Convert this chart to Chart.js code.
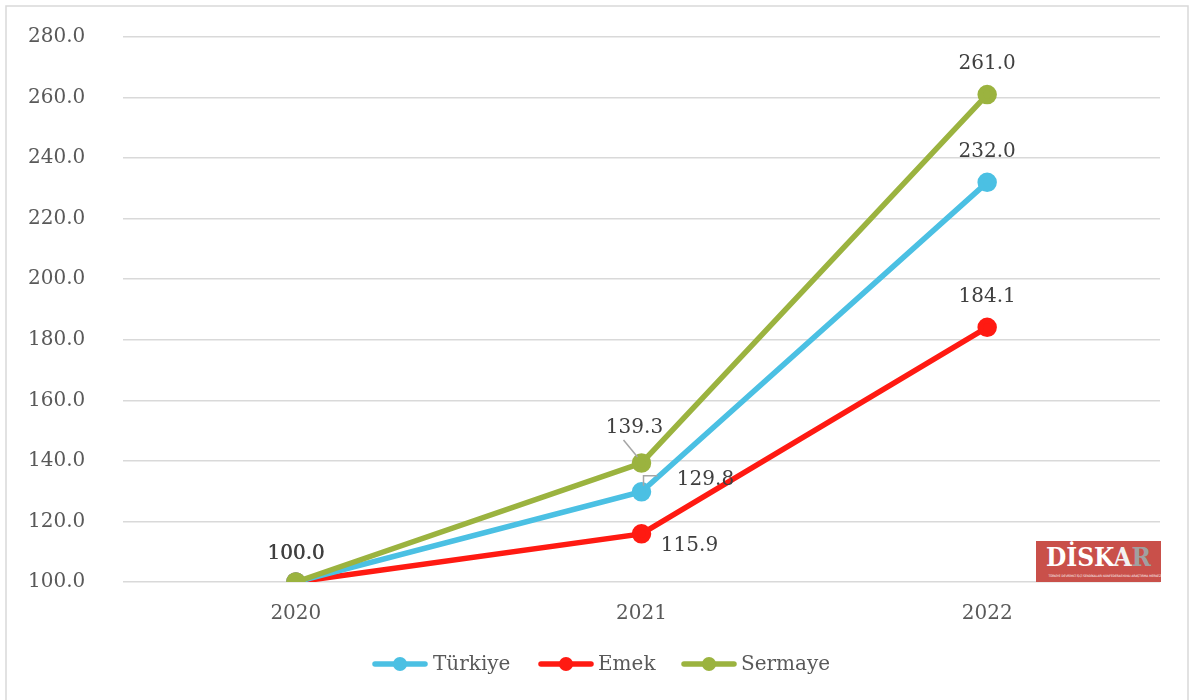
<!DOCTYPE html>
<html>
<head>
<meta charset="utf-8">
<script src="https://cdn.jsdelivr.net/npm/chart.js@4/dist/chart.umd.min.js"></script>
<style>
  html, body { margin: 0; padding: 0; background: #fff; }
  #wrap { position: relative; width: 1189px; height: 700px; }
  #logo {
    position: absolute; left: 1036px; top: 541px; width: 125px; height: 41px;
    background: #c9504a; color: #fff; font-family: "DejaVu Serif Condensed", "DejaVu Serif", serif;
    text-align: center; overflow: hidden;
  }
  #logo .big { font-size: 26px; font-weight: bold; line-height: 31px; padding-top: 1px; }
  #logo .big span { color: #f2f2f2; }
  #logo .big b { color: #a0a0a0; }
  #logo .small { font-size: 4px; line-height: 6px; font-family: "DejaVu Sans Condensed", sans-serif; white-space: nowrap; transform: scale(0.8); }
</style>
</head>
<body>
<div id="wrap">
  <canvas id="chart" width="1189" height="700"></canvas>
  <div id="logo"><div class="big">DİSK<span>A</span><b>R</b></div><div class="small">TÜRKİYE DEVRİMCİ İŞÇİ SENDİKALARI KONFEDERASYONU ARAŞTIRMA MERKEZİ</div></div>
</div>
<script>
const years = ['2020', '2021', '2022'];
const turkiye = [100.0, 129.8, 232.0];
const emek = [100.0, 115.9, 184.1];
const sermaye = [100.0, 139.3, 261.0];
const yTicks = [100, 120, 140, 160, 180, 200, 220, 240, 260, 280];

const FONT = '"DejaVu Serif", serif';

// label offsets per dataset & point (dx, dy from point, leader line flag)
const labelPos = {
  0: [[0, -28], [64, -12, true], [0, -31]],
  1: [[0, -28], [48, 12], [0, -31]],
  2: [[0, -28], [-7, -35, true], [0, -31]]
};

const extras = {
  id: 'extras',
  afterDatasetsDraw(chart) {
    const ctx = chart.ctx;
    ctx.save();
    ctx.font = '20px ' + FONT;
    ctx.fillStyle = '#404040';
    ctx.textAlign = 'center';
    ctx.textBaseline = 'middle';
    chart.data.datasets.forEach((ds, di) => {
      const meta = chart.getDatasetMeta(di);
      meta.data.forEach((pt, i) => {
        const [dx, dy, leader] = labelPos[di][i];
        if (leader) {
          ctx.strokeStyle = '#a6a6a6';
          ctx.lineWidth = 1.5;
          ctx.beginPath();
          if (di === 2) {
            ctx.moveTo(pt.x - 18, pt.y - 23);
            ctx.lineTo(pt.x - 4, pt.y - 6);
          } else {
            ctx.moveTo(pt.x + 16, pt.y - 16);
            ctx.lineTo(pt.x + 2, pt.y - 16);
            ctx.lineTo(pt.x + 2, pt.y - 6);
          }
          ctx.stroke();
        }
        if (i === 0 && di > 0) return;
        ctx.fillText(ds.data[i].toFixed(1), pt.x + dx, pt.y + dy);
        if (i === 0) ctx.fillText(ds.data[i].toFixed(1), pt.x + dx + 0.6, pt.y + dy);
      });
    });
    ctx.restore();
  },
  afterDraw(chart) {
    const ctx = chart.ctx;
    ctx.save();
    // outer frame
    ctx.strokeStyle = '#d9d9d9';
    ctx.lineWidth = 1.5;
    ctx.strokeRect(6, 6, 1182, 700);
    // legend
    const items = [[400, 433], [566, 598], [709, 741]];
    ctx.font = '20px ' + FONT;
    ctx.textBaseline = 'middle';
    ctx.textAlign = 'left';
    chart.data.datasets.forEach((ds, i) => {
      const [cx, tx] = items[i];
      const y = 664;
      ctx.strokeStyle = ds.borderColor;
      ctx.lineWidth = 5.5;
      ctx.lineCap = 'round';
      ctx.beginPath();
      ctx.moveTo(cx - 25, y);
      ctx.lineTo(cx + 25, y);
      ctx.stroke();
      ctx.fillStyle = ds.borderColor;
      ctx.beginPath();
      ctx.arc(cx, y, 7, 0, Math.PI * 2);
      ctx.fill();
      ctx.fillStyle = '#595959';
      ctx.fillText(ds.label, tx, y + 1);
    });
    ctx.restore();
  }
};

const mk = (label, data, color, order) => ({
  label, data, order,
  borderColor: color, backgroundColor: color,
  pointBackgroundColor: color, pointBorderColor: color,
  borderWidth: 5.5, pointRadius: 7, pointHoverRadius: 7,
  tension: 0, fill: false
});

new Chart(document.getElementById('chart'), {
  type: 'line',
  data: {
    labels: years,
    datasets: [
      mk('Türkiye', turkiye, '#4bc0e3', 1),
      mk('Emek', emek, '#ff1a12', 2),
      mk('Sermaye', sermaye, '#9bb33f', 0)
    ]
  },
  options: {
    responsive: false,
    animation: false,
    layout: { padding: { left: 28, right: 29, top: 37, bottom: 68 } },
    plugins: { legend: { display: false }, tooltip: { enabled: false } },
    scales: {
      x: {
        offset: true,
        grid: { display: false },
        border: { display: false },
        ticks: { color: '#595959', font: { family: FONT, size: 20 }, padding: 12 },
        afterFit(scale) { scale.height = 50; }
      },
      y: {
        min: 100, max: 280,
        afterBuildTicks(scale) { scale.ticks = yTicks.map(v => ({ value: v })); },
        grid: { color: '#d9d9d9', lineWidth: 1.5, drawTicks: false },
        border: { display: false },
        ticks: {
          color: '#595959', font: { family: FONT, size: 20 }, padding: 0,
          crossAlign: 'far',
          callback: v => Number(v).toFixed(1)
        },
        afterFit(scale) { scale.width = 95; }
      }
    }
  },
  plugins: [extras]
});
</script>
</body>
</html>
